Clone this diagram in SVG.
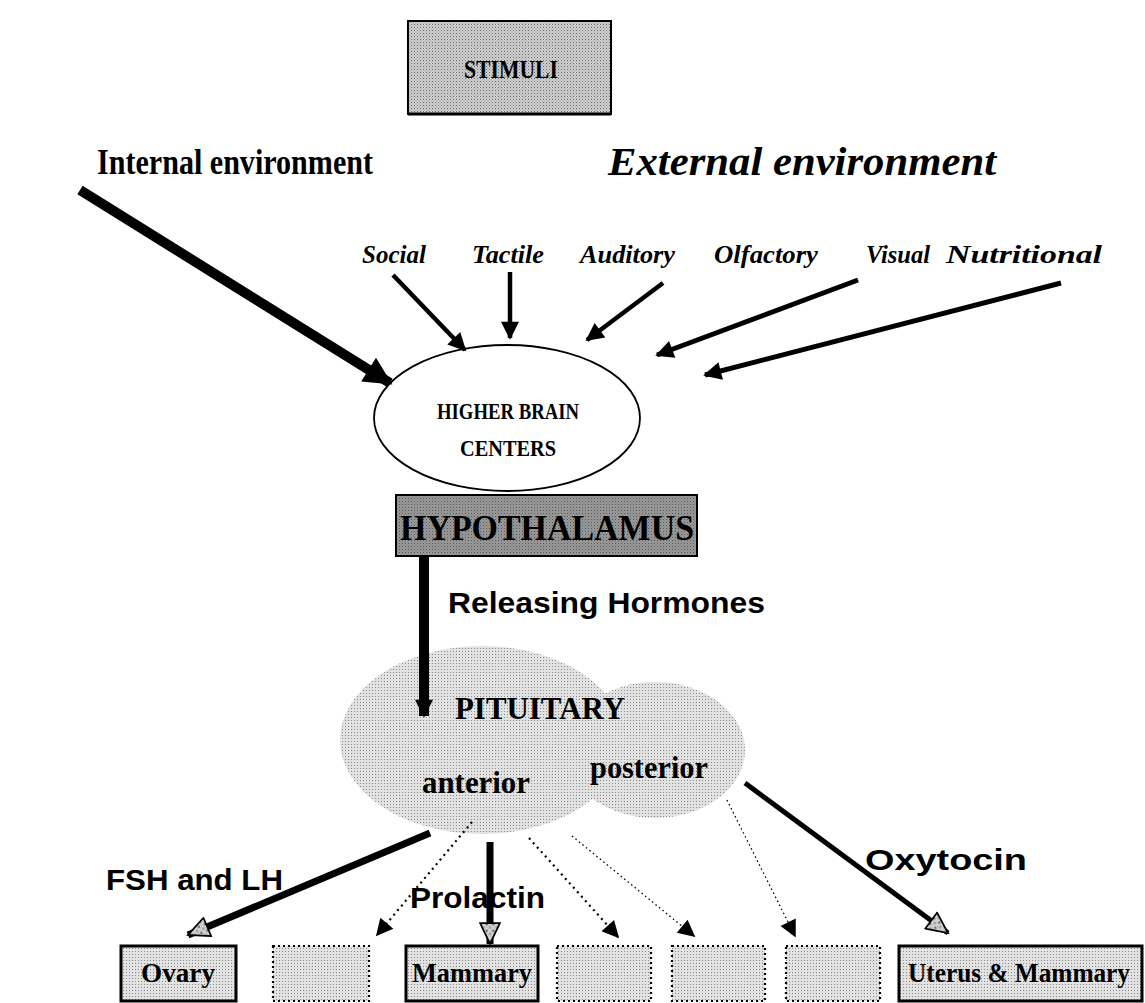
<svg xmlns="http://www.w3.org/2000/svg" width="1145" height="1003" viewBox="0 0 1145 1003">
<defs>
<style>
.serif{font-family:"Liberation Serif","Times New Roman",serif;font-weight:bold;fill:#000}
.ital{font-family:"Liberation Serif","Times New Roman",serif;font-weight:bold;font-style:italic;fill:#000}
.sans{font-family:"Liberation Sans",Arial,sans-serif;font-weight:bold;fill:#000}
.solid{stroke:#000;fill:none;stroke-linecap:butt}
.dot{stroke:#000;fill:none;stroke-dasharray:2 4;stroke-width:2.2}
.dotfine{stroke:#000;fill:none;stroke-dasharray:1.5 3;stroke-width:1.3}
.dbox{fill:url(#light);stroke:#000;stroke-width:2.2;stroke-dasharray:2 3}
.sbox{fill:url(#light);stroke:#000;stroke-width:3}
</style>
<pattern id="light" width="3" height="3" patternUnits="userSpaceOnUse">
<rect width="3" height="3" fill="#e2e2e2"/><rect width="1" height="1" fill="#8a8a8a"/>
</pattern>
<pattern id="mid" width="3" height="3" patternUnits="userSpaceOnUse">
<rect width="3" height="3" fill="#cfcfcf"/><rect width="1" height="1" fill="#6a6a6a"/><rect x="1.5" y="1.5" width="1" height="1" fill="#9a9a9a"/>
</pattern>
<pattern id="dark" width="3" height="3" patternUnits="userSpaceOnUse">
<rect width="3" height="3" fill="#9a9a9a"/><rect width="1" height="1" fill="#555"/><rect x="1.5" y="1.5" width="1" height="1" fill="#777"/>
</pattern>
<marker id="ahbig" viewBox="0 0 10 10" refX="9" refY="5" markerWidth="44" markerHeight="28" markerUnits="userSpaceOnUse" orient="auto">
<path d="M0,0 L10,5 L0,10 Z" fill="#000"/>
</marker>
<marker id="ahslim" viewBox="0 0 10 10" refX="9" refY="5" markerWidth="32" markerHeight="18" markerUnits="userSpaceOnUse" orient="auto">
<path d="M0,0 L10,5 L0,10 Z" fill="#000"/>
</marker>
<marker id="ahs" viewBox="0 0 10 10" refX="9" refY="5" markerWidth="28" markerHeight="18" markerUnits="userSpaceOnUse" orient="auto">
<path d="M0,0 L10,5 L0,10 Z" fill="#000"/>
</marker>
<marker id="ahd" viewBox="0 0 10 10" refX="9" refY="5" markerWidth="22" markerHeight="17" markerUnits="userSpaceOnUse" orient="auto">
<path d="M0,0 L10,5 L0,10 Z" fill="#000"/>
</marker>
<marker id="ahh" viewBox="0 0 10 10" refX="9.5" refY="5" markerWidth="28" markerHeight="22" markerUnits="userSpaceOnUse" orient="auto">
<path d="M0,0.5 L9.5,5 L0,9.5 Z" fill="url(#mid)" stroke="#000" stroke-width="0.8"/>
</marker>
</defs>

<g id="stimuli">
<rect x="408" y="21" width="203" height="93" fill="url(#mid)" stroke="#000" stroke-width="2"/>
<line x1="408" y1="114" x2="611" y2="114" stroke="#000" stroke-width="3"/>
<text class="serif" x="511" y="78" font-size="26" text-anchor="middle" textLength="94" lengthAdjust="spacingAndGlyphs">STIMULI</text>
</g>

<g id="internal">
<text class="serif" x="97" y="174" font-size="35" textLength="276" lengthAdjust="spacingAndGlyphs">Internal environment</text>
</g>
<g id="external">
<text class="ital" x="608" y="175" font-size="39" textLength="388" lengthAdjust="spacingAndGlyphs">External environment</text>
</g>

<g id="labels-stimuli">
<text class="ital" x="362" y="263" font-size="26" textLength="64" lengthAdjust="spacingAndGlyphs">Social</text>
<text class="ital" x="472" y="263" font-size="26" textLength="72" lengthAdjust="spacingAndGlyphs">Tactile</text>
<text class="ital" x="580" y="263" font-size="26" textLength="95" lengthAdjust="spacingAndGlyphs">Auditory</text>
<text class="ital" x="714" y="263" font-size="26" textLength="104" lengthAdjust="spacingAndGlyphs">Olfactory</text>
<text class="ital" x="866" y="263" font-size="26" textLength="64" lengthAdjust="spacingAndGlyphs">Visual</text>
<text class="ital" x="946" y="263" font-size="26" textLength="156" lengthAdjust="spacingAndGlyphs">Nutritional</text>
</g>

<g id="higher-brain">
<ellipse cx="507" cy="418" rx="133" ry="73" fill="#fff" stroke="#000" stroke-width="1.8"/>
<text class="serif" x="508" y="419" font-size="23" text-anchor="middle" textLength="142" lengthAdjust="spacingAndGlyphs">HIGHER BRAIN</text>
<text class="serif" x="508" y="456" font-size="23" text-anchor="middle" textLength="96" lengthAdjust="spacingAndGlyphs">CENTERS</text>
</g>

<g id="hypothalamus">
<rect x="396" y="495" width="301" height="61" fill="url(#dark)" stroke="#000" stroke-width="2"/>
<text class="serif" x="547" y="540" font-size="36" text-anchor="middle" textLength="294" lengthAdjust="spacingAndGlyphs">HYPOTHALAMUS</text>
</g>

<g id="pituitary">
<ellipse cx="482" cy="740" rx="142" ry="94" fill="url(#light)"/>
<ellipse cx="655" cy="750" rx="90" ry="68" fill="url(#light)"/>
<text class="serif" x="540" y="719" font-size="31" text-anchor="middle" textLength="170" lengthAdjust="spacingAndGlyphs">PITUITARY</text>
<text class="serif" x="476" y="793" font-size="32" text-anchor="middle" textLength="108" lengthAdjust="spacingAndGlyphs">anterior</text>
<text class="serif" x="649" y="778" font-size="32" text-anchor="middle" textLength="118" lengthAdjust="spacingAndGlyphs">posterior</text>
</g>

<g id="targets">
<g id="ovary"><rect class="sbox" x="121" y="946" width="115" height="55"/>
<text class="serif" x="178" y="982" font-size="27" text-anchor="middle" textLength="74" lengthAdjust="spacingAndGlyphs">Ovary</text></g>
<g id="box2"><rect class="dbox" x="273" y="946" width="96" height="55"/></g>
<g id="mammary"><rect class="sbox" x="406" y="946" width="132" height="55"/>
<text class="serif" x="472" y="982" font-size="27" text-anchor="middle" textLength="120" lengthAdjust="spacingAndGlyphs">Mammary</text></g>
<g id="box4"><rect class="dbox" x="557" y="946" width="94" height="55"/></g>
<g id="box5"><rect class="dbox" x="672" y="946" width="93" height="55"/></g>
<g id="box6"><rect class="dbox" x="786" y="946" width="94" height="55"/></g>
<g id="uterus"><rect class="sbox" x="899" y="946" width="243" height="55"/>
<text class="serif" x="1019" y="982" font-size="27" text-anchor="middle" textLength="222" lengthAdjust="spacingAndGlyphs">Uterus &amp; Mammary</text></g>
</g>

<g id="connectors">
<line class="solid" x1="80" y1="190" x2="390" y2="383" stroke-width="10" marker-end="url(#ahbig)"/>
<line class="solid" x1="393" y1="275" x2="465" y2="350" stroke-width="4.5" marker-end="url(#ahs)"/>
<line class="solid" x1="510" y1="272" x2="510" y2="338" stroke-width="4.5" marker-end="url(#ahs)"/>
<line class="solid" x1="663" y1="283" x2="587" y2="340" stroke-width="4.5" marker-end="url(#ahs)"/>
<line class="solid" x1="858" y1="280" x2="657" y2="355" stroke-width="5" marker-end="url(#ahs)"/>
<line class="solid" x1="1061" y1="283" x2="705" y2="375" stroke-width="5" marker-end="url(#ahs)"/>
<line class="solid" x1="424" y1="557" x2="424" y2="716" stroke-width="10" marker-end="url(#ahslim)"/>
<line class="solid" x1="430" y1="833" x2="188" y2="935" stroke-width="7" marker-end="url(#ahh)"/>
<line class="dot" x1="472" y1="822" x2="377" y2="935" marker-end="url(#ahd)"/>
<line class="solid" x1="490" y1="842" x2="490" y2="944" stroke-width="7" marker-end="url(#ahh)"/>
<line class="dot" x1="529" y1="838" x2="618" y2="937" marker-end="url(#ahd)"/>
<line class="dotfine" x1="572" y1="836" x2="694" y2="936" marker-end="url(#ahd)"/>
<line class="dotfine" x1="727" y1="800" x2="795" y2="936" marker-end="url(#ahd)"/>
<line class="solid" x1="745" y1="783" x2="948" y2="933" stroke-width="5" marker-end="url(#ahh)"/>
</g>

<g id="hormone-labels">
<text class="sans" x="448" y="613" font-size="29" textLength="317" lengthAdjust="spacingAndGlyphs">Releasing Hormones</text>
<text class="sans" x="106" y="890" font-size="30" textLength="177" lengthAdjust="spacingAndGlyphs">FSH and LH</text>
<text class="sans" x="410" y="908" font-size="30" textLength="135" lengthAdjust="spacingAndGlyphs">Prolactin</text>
<text class="sans" x="865" y="870" font-size="30" textLength="162" lengthAdjust="spacingAndGlyphs">Oxytocin</text>
</g>
</svg>
